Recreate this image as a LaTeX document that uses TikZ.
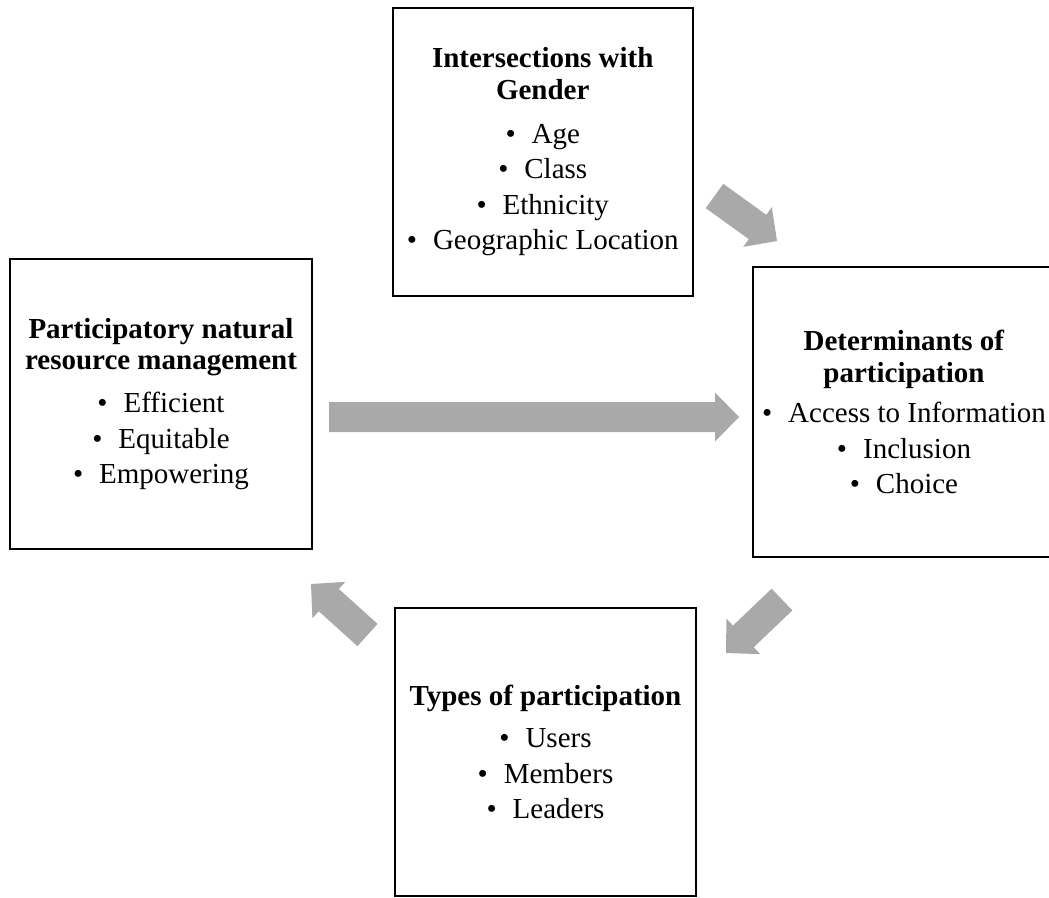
\documentclass[tikz,border=0pt]{standalone}
\usepackage{fontspec}
\setmainfont{Liberation Serif}
\usetikzlibrary{calc}
\definecolor{arrowgray}{HTML}{A9A9A9}
\newcommand\bul{\textbullet\hspace{0.55em}}
\newcommand\blkarrow[3]{%
  \coordinate (#3n) at ($(#2)!24pt!(#1)$);
  \fill[blockarrow] ($(#1)!15pt!90:(#2)$) -- ($(#3n)!15pt!-90:(#1)$) -- ($(#3n)!24.5pt!-90:(#1)$) -- (#2)
    -- ($(#3n)!24.5pt!90:(#1)$) -- ($(#3n)!15pt!90:(#1)$) -- ($(#1)!15pt!-90:(#2)$) -- cycle;
}
\begin{document}
\begin{tikzpicture}[x=1pt,y=-1pt,
  box/.style={draw=black, line width=2pt, align=center, inner sep=0pt,
    font=\fontsize{29}{31.5}\selectfont},
  blockarrow/.style={fill=arrowgray, draw=none}]
\useasboundingbox (0,0) rectangle (1049,897);
\clip (0,0) rectangle (1049,897);

\node[box, minimum width=300.5pt, minimum height=288.5pt] (gender) at (542.75,151.75)
  {\textbf{Intersections with}\\\textbf{Gender}\\[12.5pt]
   \bul Age\\[4pt] \bul Class\\[4pt] \bul Ethnicity\\[4pt] \bul Geographic Location};

\node[box, minimum width=302pt, minimum height=290pt] (pnrm) at (161,404)
  {\textbf{Participatory natural}\\\textbf{resource management}\\[11.5pt]
   \bul Efficient\\[4pt] \bul Equitable\\[4pt] \bul Empowering};

\node[box, minimum width=302pt, minimum height=290pt] (det) at (904,412)
  {\textbf{Determinants of}\\\textbf{participation}\\[9pt]
   \bul Access to Information\\[4pt] \bul Inclusion\\[4pt] \bul Choice};

\node[box, minimum width=301pt, minimum height=288pt] (types) at (545.5,752)
  {\textbf{Types of participation}\\[11pt]
   \bul Users\\[4pt] \bul Members\\[4pt] \bul Leaders};

\coordinate (a1) at (714.5,196);  \coordinate (b1) at (777,241);
\coordinate (a2) at (329,417);    \coordinate (b2) at (739,417);
\coordinate (a3) at (782,599.5);  \coordinate (b3) at (726,653);
\coordinate (a4) at (367.5,635);  \coordinate (b4) at (311,584);

\blkarrow{a1}{b1}{h1}
\blkarrow{a2}{b2}{h2}
\blkarrow{a3}{b3}{h3}
\blkarrow{a4}{b4}{h4}
\end{tikzpicture}
\end{document}
